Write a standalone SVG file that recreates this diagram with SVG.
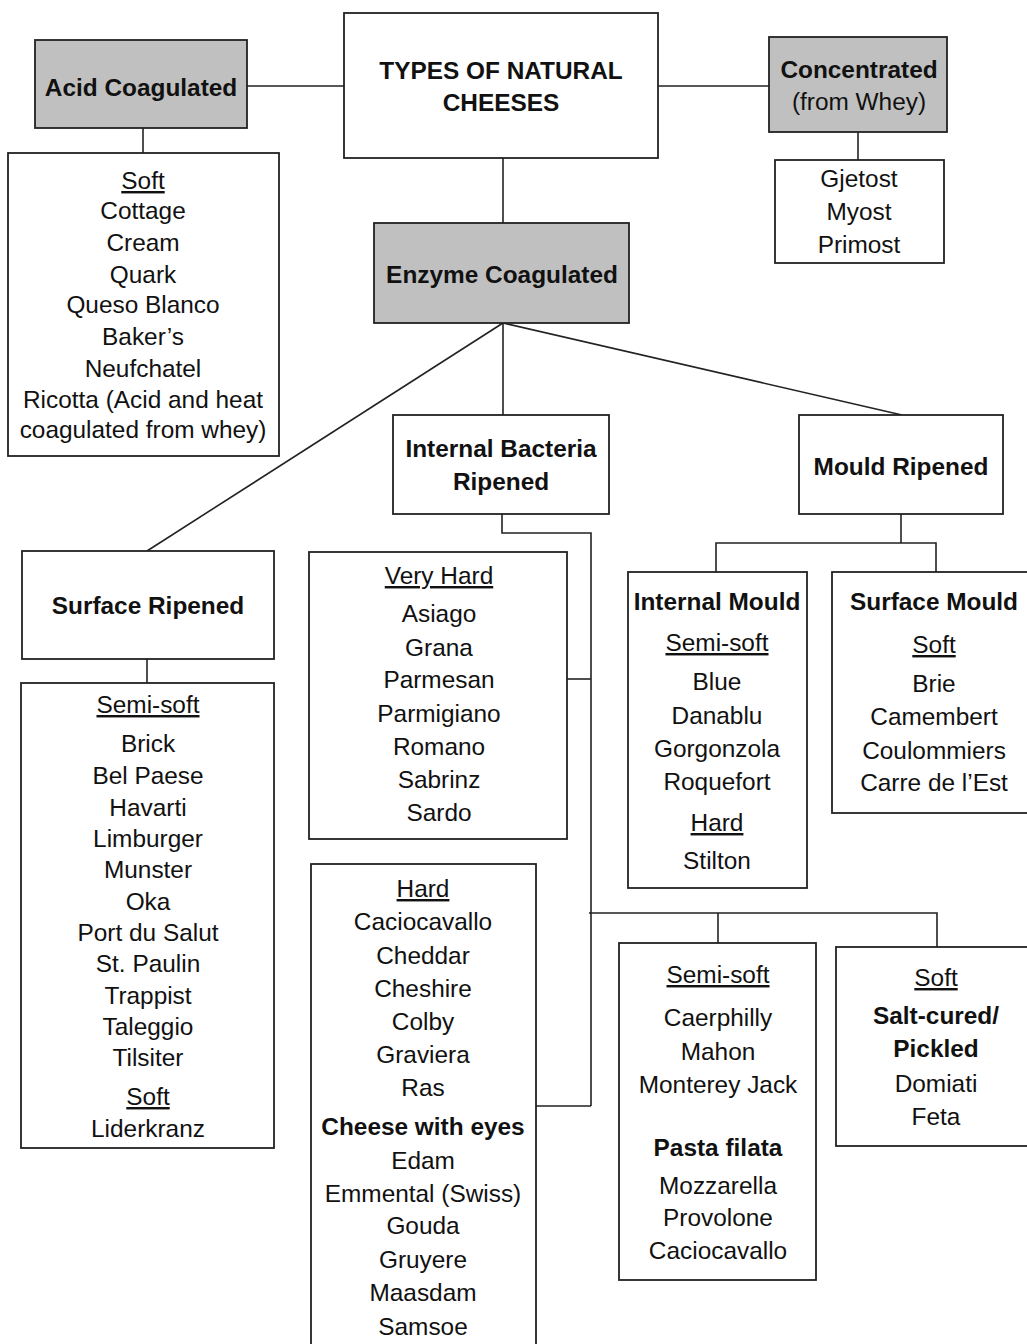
<svg xmlns="http://www.w3.org/2000/svg" width="1027" height="1344" viewBox="0 0 1027 1344">
<style>
.box{fill:#fff;stroke:#222;stroke-width:1.8}
.gray{fill:#c0c0c0;stroke:#222;stroke-width:1.8}
.con{fill:none;stroke:#222;stroke-width:1.6}
text{font-family:"Liberation Sans",Arial,sans-serif;font-size:24.4px;fill:#111;text-anchor:middle}
.b{font-weight:bold}
.u{text-decoration:underline}
</style>
<rect width="1027" height="1344" fill="#fff"/>
<g id="connectors">
<path class="con" d="M247,86 H344"/>
<path class="con" d="M658,86 H769"/>
<path class="con" d="M143,128 V153"/>
<path class="con" d="M858,132 V160"/>
<path class="con" d="M503,158 V223"/>
<path class="con" d="M503,323 L147,551"/>
<path class="con" d="M503,323 V415"/>
<path class="con" d="M503,323 L902,415"/>
<path class="con" d="M147,659 V683"/>
<path class="con" d="M502,514 V533 H591 V1106"/>
<path class="con" d="M567,679 H591"/>
<path class="con" d="M536,1106 H591"/>
<path class="con" d="M589,913 H937 V947"/>
<path class="con" d="M718,913 V943"/>
<path class="con" d="M901,514 V543"/>
<path class="con" d="M716,572 V543 H936 V572"/>
</g>
<g id="types">
<rect class="box" x="344" y="13" width="314" height="145"/>
<text class="b" x="501" y="79">TYPES OF NATURAL</text>
<text class="b" x="501" y="111">CHEESES</text>
</g>
<g id="acid">
<rect class="gray" x="35" y="40" width="212" height="88"/>
<text class="b" x="141" y="96">Acid Coagulated</text>
</g>
<g id="concentrated">
<rect class="gray" x="769" y="37" width="178" height="95"/>
<text class="b" x="859" y="78">Concentrated</text>
<text x="859" y="110">(from Whey)</text>
</g>
<g id="acid-soft">
<rect class="box" x="8" y="153" width="271" height="303"/>
<text class="u" x="143" y="189">Soft</text>
<text x="143" y="219">Cottage</text>
<text x="143" y="251">Cream</text>
<text x="143" y="283">Quark</text>
<text x="143" y="313">Queso Blanco</text>
<text x="143" y="345">Baker’s</text>
<text x="143" y="377">Neufchatel</text>
<text x="143" y="408">Ricotta (Acid and heat</text>
<text x="143" y="438">coagulated from whey)</text>
</g>
<g id="whey-list">
<rect class="box" x="775" y="160" width="169" height="103"/>
<text x="859" y="187">Gjetost</text>
<text x="859" y="220">Myost</text>
<text x="859" y="253">Primost</text>
</g>
<g id="enzyme">
<rect class="gray" x="374" y="223" width="255" height="100"/>
<text class="b" x="502" y="283">Enzyme Coagulated</text>
</g>
<g id="internal-bacteria">
<rect class="box" x="393" y="415" width="216" height="99"/>
<text class="b" x="501" y="457">Internal Bacteria</text>
<text class="b" x="501" y="490">Ripened</text>
</g>
<g id="mould-ripened">
<rect class="box" x="799" y="415" width="204" height="99"/>
<text class="b" x="901" y="475">Mould Ripened</text>
</g>
<g id="surface-ripened">
<rect class="box" x="22" y="551" width="252" height="108"/>
<text class="b" x="148" y="614">Surface Ripened</text>
</g>
<g id="surface-list">
<rect class="box" x="21" y="683" width="253" height="465"/>
<text class="u" x="148" y="713">Semi-soft</text>
<text x="148" y="752">Brick</text>
<text x="148" y="784">Bel Paese</text>
<text x="148" y="816">Havarti</text>
<text x="148" y="847">Limburger</text>
<text x="148" y="878">Munster</text>
<text x="148" y="910">Oka</text>
<text x="148" y="941">Port du Salut</text>
<text x="148" y="972">St. Paulin</text>
<text x="148" y="1004">Trappist</text>
<text x="148" y="1035">Taleggio</text>
<text x="148" y="1066">Tilsiter</text>
<text class="u" x="148" y="1105">Soft</text>
<text x="148" y="1137">Liderkranz</text>
</g>
<g id="very-hard">
<rect class="box" x="309" y="552" width="258" height="287"/>
<text class="u" x="439" y="584">Very Hard</text>
<text x="439" y="622">Asiago</text>
<text x="439" y="656">Grana</text>
<text x="439" y="688">Parmesan</text>
<text x="439" y="722">Parmigiano</text>
<text x="439" y="755">Romano</text>
<text x="439" y="788">Sabrinz</text>
<text x="439" y="821">Sardo</text>
</g>
<g id="hard">
<rect class="box" x="311" y="864" width="225" height="500"/>
<text class="u" x="423" y="897">Hard</text>
<text x="423" y="930">Caciocavallo</text>
<text x="423" y="964">Cheddar</text>
<text x="423" y="997">Cheshire</text>
<text x="423" y="1030">Colby</text>
<text x="423" y="1063">Graviera</text>
<text x="423" y="1096">Ras</text>
<text class="b" x="423" y="1135">Cheese with eyes</text>
<text x="423" y="1169">Edam</text>
<text x="423" y="1202">Emmental (Swiss)</text>
<text x="423" y="1234">Gouda</text>
<text x="423" y="1268">Gruyere</text>
<text x="423" y="1301">Maasdam</text>
<text x="423" y="1335">Samsoe</text>
</g>
<g id="internal-mould">
<rect class="box" x="628" y="572" width="179" height="316"/>
<text class="b" x="717" y="610">Internal Mould</text>
<text class="u" x="717" y="651">Semi-soft</text>
<text x="717" y="690">Blue</text>
<text x="717" y="724">Danablu</text>
<text x="717" y="757">Gorgonzola</text>
<text x="717" y="790">Roquefort</text>
<text class="u" x="717" y="831">Hard</text>
<text x="717" y="869">Stilton</text>
</g>
<g id="surface-mould">
<rect class="box" x="832" y="572" width="210" height="241"/>
<text class="b" x="934" y="610">Surface Mould</text>
<text class="u" x="934" y="653">Soft</text>
<text x="934" y="692">Brie</text>
<text x="934" y="725">Camembert</text>
<text x="934" y="759">Coulommiers</text>
<text x="934" y="791">Carre de l’Est</text>
</g>
<g id="semi-soft">
<rect class="box" x="619" y="943" width="197" height="337"/>
<text class="u" x="718" y="983">Semi-soft</text>
<text x="718" y="1026">Caerphilly</text>
<text x="718" y="1060">Mahon</text>
<text x="718" y="1093">Monterey Jack</text>
<text class="b" x="718" y="1156">Pasta filata</text>
<text x="718" y="1194">Mozzarella</text>
<text x="718" y="1226">Provolone</text>
<text x="718" y="1259">Caciocavallo</text>
</g>
<g id="soft-pickled">
<rect class="box" x="836" y="947" width="210" height="199"/>
<text class="u" x="936" y="986">Soft</text>
<text class="b" x="936" y="1024">Salt-cured/</text>
<text class="b" x="936" y="1057">Pickled</text>
<text x="936" y="1092">Domiati</text>
<text x="936" y="1125">Feta</text>
</g>
</svg>
